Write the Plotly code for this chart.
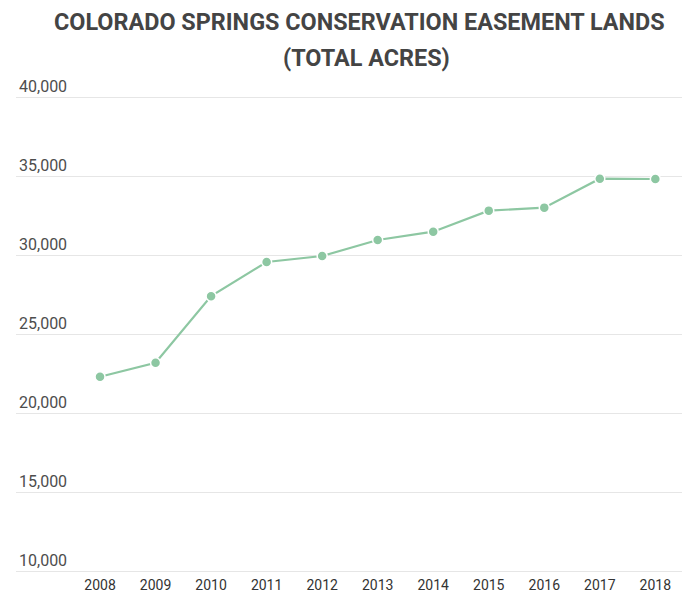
import plotly.graph_objects as go

years = [2008, 2009, 2010, 2011, 2012, 2013, 2014, 2015, 2016, 2017, 2018]
acres = [22320, 23210, 27420, 29580, 29960, 30970, 31500, 32830, 33020, 34850, 34830]
y_ticks = [10000, 15000, 20000, 25000, 30000, 35000, 40000]
title_line1 = "COLORADO SPRINGS CONSERVATION EASEMENT LANDS"
title_line2 = "(TOTAL ACRES)"

W, H = 687, 593
ml, mr, mt, mb = 16, 5, 92, 18
ph = H - mt - mb
pw = W - ml - mr

def py(y):
    return (H - mb - y) / ph

def px(x):
    return (x - ml) / pw

fig = go.Figure()
fig.add_trace(go.Scatter(
    x=years, y=acres, mode="lines+markers",
    line=dict(color="#8dc7a2", width=2.2),
    marker=dict(color="#8dc7a2", size=10, line=dict(color="white", width=1.5)),
    hoverinfo="x+y",
))

fig.update_layout(
    width=W, height=H,
    margin=dict(l=ml, r=mr, t=mt, b=mb, autoexpand=False),
    paper_bgcolor="white", plot_bgcolor="white",
    showlegend=False,
    font=dict(family="Roboto", color="#333"),
    xaxis=dict(
        range=[2006.487, 2018.48], automargin=False,
        tickmode="array", tickvals=years, ticktext=[str(y) for y in years],
        showgrid=False, zeroline=False, showline=False,
        ticks="", tickfont=dict(size=14, color="#333"),
    ),
    yaxis=dict(
        range=[9779, 40335], automargin=False,
        tickmode="array", tickvals=y_ticks,
        ticktext=[f"{v:,}" for v in y_ticks],
        showgrid=True, gridcolor="#e6e6e6", gridwidth=1.2,
        zeroline=False, showline=False, ticks="",
        ticklabelposition="inside top", ticklabeloverflow="allow",
        tickfont=dict(size=16, color="#4d4d4d"),
    ),
    annotations=[
        dict(text=f"<b>{title_line1}</b>", xref="paper", yref="paper",
             x=px(359), y=py(22), xanchor="center", yanchor="middle",
             showarrow=False, font=dict(size=23.4, color="#444", family="Roboto")),
        dict(text=f"<b>{title_line2}</b>", xref="paper", yref="paper",
             x=px(366), y=py(58), xanchor="center", yanchor="middle",
             showarrow=False, font=dict(size=23.4, color="#444", family="Roboto")),
    ],
)

fig.write_html("out.html")
